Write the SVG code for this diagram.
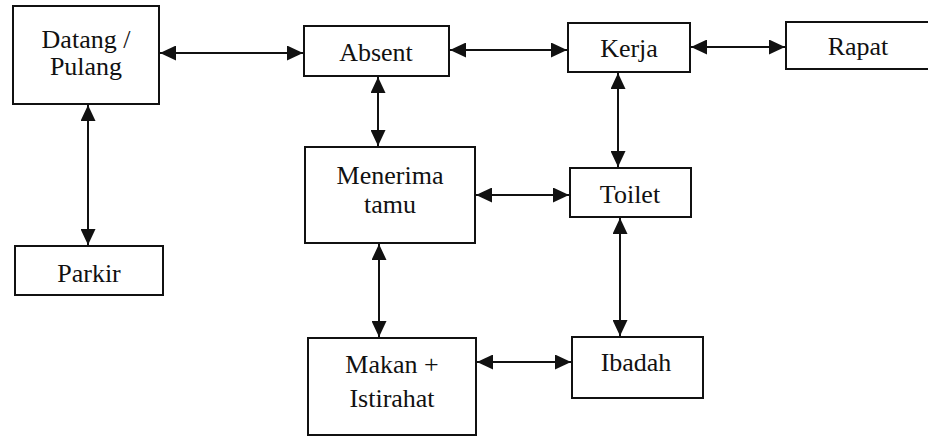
<svg xmlns="http://www.w3.org/2000/svg" width="928" height="437" viewBox="0 0 928 437">
  <style>
    .box { fill: #ffffff; stroke: #111111; stroke-width: 2; }
    .lbl { font-family: "Liberation Serif", "Times New Roman", serif; font-size: 26px; fill: #111111; text-anchor: middle; }
    .link { fill: none; stroke: #111111; stroke-width: 2; marker-start: url(#head); marker-end: url(#head); }
  </style>
  <defs>
    <marker id="head" viewBox="0 0 16 15" refX="16" refY="7.5" markerWidth="16" markerHeight="15" markerUnits="userSpaceOnUse" orient="auto-start-reverse">
      <path d="M0,0 L16,7.5 L0,15 Z" fill="#111111"/>
    </marker>
  </defs>
  <rect width="928" height="437" fill="#ffffff"/>

  <g id="connectors">
    <path class="link" d="M160,53 L303,53"/>
    <path class="link" d="M450,50 L567,50"/>
    <path class="link" d="M691,47 L785,47"/>
    <path class="link" d="M88,105 L88,245"/>
    <path class="link" d="M378,77 L378,146"/>
    <path class="link" d="M618,73 L618,167"/>
    <path class="link" d="M476,195 L569,195"/>
    <path class="link" d="M379,244 L379,337"/>
    <path class="link" d="M620,218 L620,336"/>
    <path class="link" d="M477,362 L571,362"/>
  </g>

  <g id="datang-pulang">
    <rect class="box" x="13" y="6" width="146" height="98"/>
    <text class="lbl" x="86" y="48">Datang /</text>
    <text class="lbl" x="86" y="75">Pulang</text>
  </g>
  <g id="absent">
    <rect class="box" x="304" y="26" width="145" height="50"/>
    <text class="lbl" x="376" y="61">Absent</text>
  </g>
  <g id="kerja">
    <rect class="box" x="568" y="23" width="122" height="49"/>
    <text class="lbl" x="629" y="57">Kerja</text>
  </g>
  <g id="rapat">
    <rect class="box" x="786" y="22" width="146" height="47"/>
    <text class="lbl" x="858" y="55">Rapat</text>
  </g>
  <g id="parkir">
    <rect class="box" x="15" y="246" width="148" height="49"/>
    <text class="lbl" x="89" y="282">Parkir</text>
  </g>
  <g id="menerima-tamu">
    <rect class="box" x="305" y="147" width="170" height="96"/>
    <text class="lbl" x="390" y="184">Menerima</text>
    <text class="lbl" x="390" y="213">tamu</text>
  </g>
  <g id="toilet">
    <rect class="box" x="570" y="168" width="121" height="49"/>
    <text class="lbl" x="630" y="203">Toilet</text>
  </g>
  <g id="makan-istirahat">
    <rect class="box" x="308" y="338" width="168" height="97"/>
    <text class="lbl" x="392" y="373">Makan +</text>
    <text class="lbl" x="392" y="407">Istirahat</text>
  </g>
  <g id="ibadah">
    <rect class="box" x="572" y="337" width="131" height="61"/>
    <text class="lbl" x="636" y="371">Ibadah</text>
  </g>
</svg>
